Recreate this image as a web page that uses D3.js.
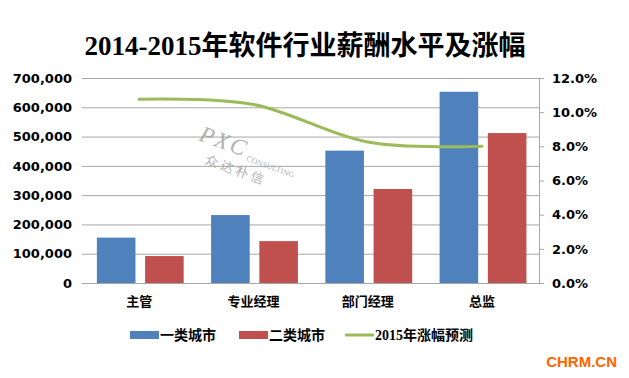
<!DOCTYPE html>
<html>
<head>
<meta charset="utf-8">
<script src="https://cdn.jsdelivr.net/npm/d3@7"></script>
<style>
  body { margin: 0; background: #fff; }
  .tick text { font-family: "DejaVu Sans", Verdana, sans-serif; font-weight: bold; font-size: 13px; fill: #000; }
  .gridlines line { stroke: #a6a6a6; }
  .gridlines path { display: none; }
</style>
</head>
<body>
<svg id="chart" width="629" height="378"></svg>
<script>
const categories = ["主管", "专业经理", "部门经理", "总监"];
const seriesNames = ["一类城市", "二类城市"];
const tier1 = [155000, 232000, 452000, 653000];
const tier2 = [92000, 143000, 321000, 512000];
const growth = [0.1075, 0.1045, 0.0825, 0.080];
const lineName = "2015年涨幅预测";
const leftTicks = [0, 100000, 200000, 300000, 400000, 500000, 600000, 700000];
const rightTicks = [0, 0.02, 0.04, 0.06, 0.08, 0.10, 0.12];

const colors = ["#4f81bd", "#c0504d"];
const lineColor = "#9bbb59";

const svg = d3.select("#chart");
const margins = { top: 78, right: 90, bottom: 95, left: 82 };
const chartWidth = svg.attr("width") - margins.left - margins.right;
const chartHeight = svg.attr("height") - margins.top - margins.bottom;

// title
svg.append("text")
  .attr("x", 305)
  .attr("y", 55)
  .attr("text-anchor", "middle")
  .attr("font-family", "'Liberation Serif', 'Noto Sans CJK SC', serif")
  .attr("font-weight", "bold")
  .attr("font-size", 27)
  .text("2014-2015年软件行业薪酬水平及涨幅");

const chartArea = svg.append("g")
  .attr("transform", `translate(${margins.left},${margins.top})`);

const xScale = d3.scaleBand().domain(categories).range([0, chartWidth]);
const xInner = d3.scaleBand()
  .domain([0, 1])
  .range([xScale.bandwidth() * 0.13, xScale.bandwidth() * 0.89])
  .paddingInner(0.2);
const yScale = d3.scaleLinear().domain([0, 700000]).range([chartHeight, 0]);
const y2Scale = d3.scaleLinear().domain([0, 0.12]).range([chartHeight, 0]);

// gridlines
chartArea.append("g")
  .attr("class", "gridlines")
  .call(d3.axisLeft(yScale).tickValues(leftTicks).tickSize(-chartWidth).tickFormat(""));

// watermark
const wm = chartArea.append("g")
  .attr("transform", "translate(116,62) rotate(20)")
  .attr("fill", "#a0a0a0")
  .attr("opacity", 0.8);
wm.append("text")
  .attr("font-family", "'Liberation Serif', serif")
  .attr("font-style", "italic")
  .attr("font-size", 23)
  .attr("letter-spacing", 2)
  .text("PXC");
wm.append("text")
  .attr("x", 52)
  .attr("y", 3)
  .attr("font-family", "'Liberation Serif', serif")
  .attr("font-size", 8)
  .text("CONSULTING");
wm.append("text")
  .attr("x", 14)
  .attr("y", 20)
  .attr("font-family", "'Noto Sans CJK SC', sans-serif")
  .attr("font-size", 13)
  .attr("letter-spacing", 3)
  .text("众达朴信");

// bars
[tier1, tier2].forEach((values, s) => {
  chartArea.append("g")
    .selectAll("rect")
    .data(values)
    .join("rect")
    .attr("x", (d, i) => xScale(categories[i]) + xInner(s))
    .attr("y", (d) => yScale(d))
    .attr("width", xInner.bandwidth())
    .attr("height", (d) => chartHeight - yScale(d))
    .attr("fill", colors[s]);
});

// line
const line = d3.line()
  .x((d, i) => xScale(categories[i]) + xScale.bandwidth() / 2)
  .y((d) => y2Scale(d))
  .curve(d3.curveCardinal.tension(0));
chartArea.append("path")
  .datum(growth)
  .attr("d", line)
  .attr("fill", "none")
  .attr("stroke", lineColor)
  .attr("stroke-width", 3)
  .attr("stroke-linecap", "round");

// left axis
const leftAxis = d3.axisLeft(yScale)
  .tickValues(leftTicks)
  .tickSize(0)
  .tickPadding(10)
  .tickFormat(d3.format(","));
chartArea.append("g").call(leftAxis).call((g) => g.select(".domain").remove());

// right axis
const rightAxis = d3.axisRight(y2Scale)
  .tickValues(rightTicks)
  .tickSize(5)
  .tickPadding(8)
  .tickFormat(d3.format(".1%"));
chartArea.append("g")
  .attr("transform", `translate(${chartWidth},0)`)
  .call(rightAxis)
  .call((g) => g.selectAll("line, path").attr("stroke", "#a6a6a6"));

// bottom axis
const bottomAxis = d3.axisBottom(xScale).tickSize(0).tickPadding(14);
chartArea.append("g")
  .attr("transform", `translate(0,${chartHeight})`)
  .call(bottomAxis)
  .call((g) => g.select(".domain").attr("stroke", "#a6a6a6"))
  .call((g) => g.selectAll("text")
    .style("font-family", "'Noto Sans CJK SC', sans-serif")
    .style("font-size", "13px"));

// legend
const legendY = 335;
const legendItems = [
  { name: seriesNames[0], color: colors[0], x: 130, type: "rect" },
  { name: seriesNames[1], color: colors[1], x: 239, type: "rect" },
  { name: lineName, color: lineColor, x: 345, type: "line" }
];
const legend = svg.append("g");
legendItems.forEach((item) => {
  if (item.type === "rect") {
    legend.append("rect")
      .attr("x", item.x)
      .attr("y", legendY - 4)
      .attr("width", 29)
      .attr("height", 8)
      .attr("fill", item.color);
  } else {
    legend.append("line")
      .attr("x1", item.x)
      .attr("x2", item.x + 29)
      .attr("y1", legendY)
      .attr("y2", legendY)
      .attr("stroke", item.color)
      .attr("stroke-width", 3);
  }
  legend.append("text")
    .attr("x", item.x + 30)
    .attr("y", legendY)
    .attr("dy", "0.35em")
    .attr("font-family", "'Liberation Serif', 'Noto Sans CJK SC', serif")
    .attr("font-weight", "bold")
    .attr("font-size", 14)
    .text(item.name);
});

// site mark
svg.append("text")
  .attr("x", 617)
  .attr("y", 367)
  .attr("text-anchor", "end")
  .attr("font-family", "'Liberation Sans', Arial, sans-serif")
  .attr("font-weight", "bold")
  .attr("font-size", 15)
  .attr("fill", "#ff6600")
  .text("CHRM.CN");
</script>
</body>
</html>
